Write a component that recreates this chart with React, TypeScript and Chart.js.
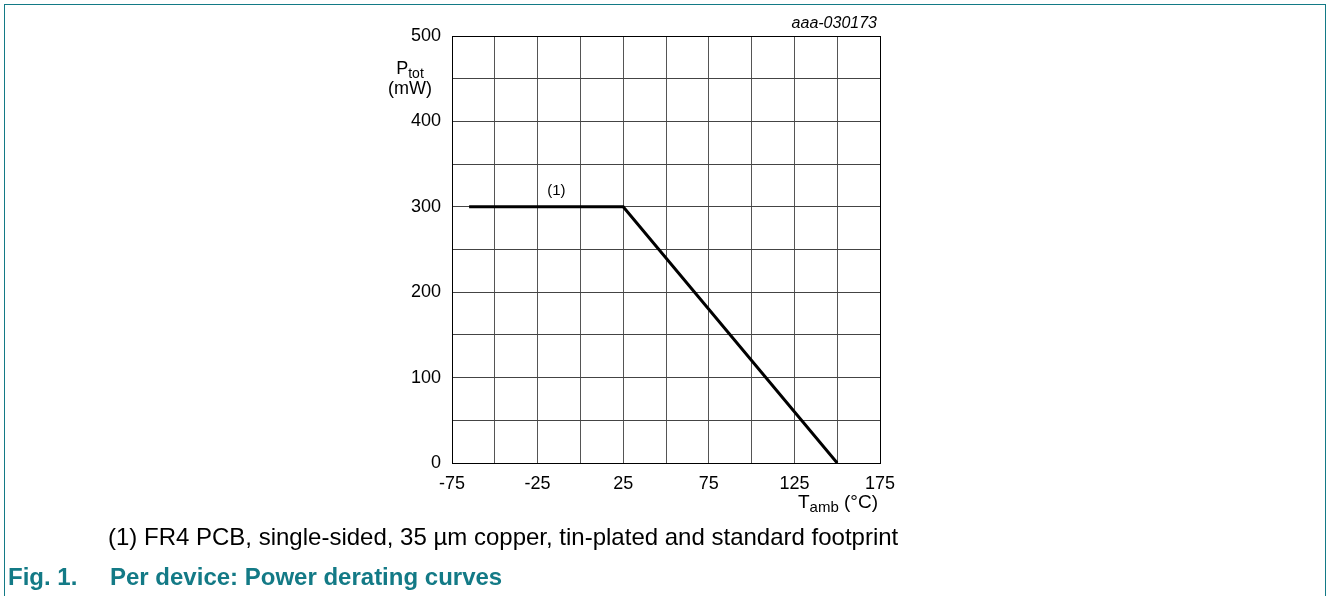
import React, { useEffect, useRef } from "react";
import { Chart, registerables } from "chart.js";

Chart.register(...registerables);

// Data
const tambC = [-65, 25, 150];
const ptotMW = [300, 300, 0];
const xTickLabels = [-75, -25, 25, 75, 125, 175];
const yTickLabels = [0, 100, 200, 300, 400, 500];
const noteLabel = "(1)";
const noteAt = { x: -14, y: 300 };

const FONT = "'Liberation Sans', Arial, Helvetica, sans-serif";
const TEAL = "#137a86";

const notePlugin = {
  id: "notePlugin",
  afterDatasetsDraw(chart: any) {
    const { ctx, scales } = chart;
    const px = scales.x.getPixelForValue(noteAt.x);
    const py = scales.y.getPixelForValue(noteAt.y);
    ctx.save();
    ctx.font = `15px ${FONT}`;
    ctx.fillStyle = "#000";
    ctx.textAlign = "center";
    ctx.textBaseline = "alphabetic";
    ctx.fillText(noteLabel, px, py - 12);
    ctx.restore();
  },
};

export default function App() {
  const ref = useRef<HTMLCanvasElement | null>(null);

  useEffect(() => {
    if (!ref.current) return;
    const chart = new Chart(ref.current, {
      type: "scatter",
      data: {
        datasets: [
          {
            data: tambC.map((x, i) => ({ x, y: ptotMW[i] })),
            showLine: true,
            borderColor: "#000",
            borderWidth: 3,
            pointRadius: 0,
            tension: 0,
          },
        ],
      },
      options: {
        responsive: false,
        animation: false,
        events: [],
        layout: { padding: { left: 300, top: 36, right: 448, bottom: 73 } },
        plugins: { legend: { display: false }, tooltip: { enabled: false } },
        scales: {
          x: {
            type: "linear",
            min: -75,
            max: 175,
            afterFit: (s: any) => {
              s.height = 60;
              s.paddingLeft = 0;
              s.paddingRight = 0;
            },
            ticks: {
              stepSize: 25,
              autoSkip: false,
              maxRotation: 0,
              padding: 10,
              color: "#000",
              font: { family: FONT, size: 18 },
              callback: (v: any) => (xTickLabels.includes(Number(v)) ? String(v) : ""),
            },
            grid: {
              drawTicks: false,
              lineWidth: 1,
              color: (c: any) => (c.tick && c.tick.value === 175 ? "#000" : "#555"),
            },
            border: { display: true, color: "#000", width: 1 },
          },
          y: {
            type: "linear",
            min: 0,
            max: 500,
            afterFit: (s: any) => {
              s.width = 152;
              s.paddingTop = 0;
              s.paddingBottom = 0;
            },
            ticks: {
              stepSize: 50,
              autoSkip: false,
              padding: 11,
              color: "#000",
              font: { family: FONT, size: 18 },
              callback: (v: any) => (yTickLabels.includes(Number(v)) ? String(v) : ""),
            },
            grid: {
              drawTicks: false,
              lineWidth: 1,
              color: (c: any) => (c.tick && c.tick.value === 500 ? "#000" : "#444"),
            },
            border: { display: true, color: "#000", width: 1 },
          },
        },
      },
      plugins: [notePlugin],
    });
    return () => chart.destroy();
  }, []);

  const abs = (s: React.CSSProperties): React.CSSProperties => ({
    position: "absolute",
    whiteSpace: "nowrap",
    fontFamily: FONT,
    color: "#000",
    ...s,
  });

  return (
    <div
      style={{
        position: "absolute",
        left: 0,
        top: 0,
        width: 1328,
        height: 596,
        overflow: "hidden",
        background: "#fff",
      }}
    >
      <div
        style={{
          position: "absolute",
          left: 4,
          top: 4,
          width: 1322,
          height: 700,
          borderLeft: `1.5px solid ${TEAL}`,
          borderTop: `1.5px solid ${TEAL}`,
          borderRight: `1.5px solid ${TEAL}`,
          boxSizing: "border-box",
        }}
      />
      <canvas ref={ref} width={1328} height={596} style={{ position: "absolute", left: 0, top: 0 }} />
      <div style={abs({ right: 1328 - 877, top: 14, fontSize: 16, lineHeight: "18px", fontStyle: "italic" })}>
        aaa-030173
      </div>
      <div style={abs({ left: 360, width: 100, top: 59, fontSize: 18, lineHeight: "19px", textAlign: "center" })}>
        P<span style={{ fontSize: 14, position: "relative", top: 4 }}>tot</span>
        <br />
        (mW)
      </div>
      <div style={abs({ right: 1328 - 878, top: 491, fontSize: 19, lineHeight: "22px" })}>
        T<span style={{ fontSize: 15, position: "relative", top: 4 }}>amb</span> (°C)
      </div>
      <div style={abs({ left: 108, top: 523, fontSize: 24, lineHeight: "28px" })}>
        (1) FR4 PCB, single-sided, 35 µm copper, tin-plated and standard footprint
      </div>
      <div style={abs({ left: 8, top: 563, fontSize: 24, lineHeight: "28px", fontWeight: "bold", color: TEAL })}>
        Fig. 1.
      </div>
      <div style={abs({ left: 110, top: 563, fontSize: 24, lineHeight: "28px", fontWeight: "bold", color: TEAL })}>
        Per device: Power derating curves
      </div>
    </div>
  );
}
